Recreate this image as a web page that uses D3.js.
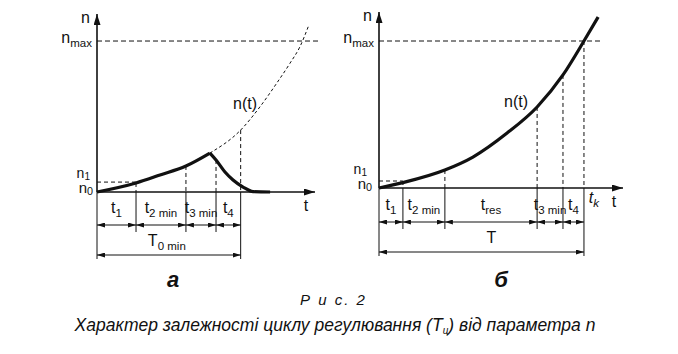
<!DOCTYPE html>
<html>
<head>
<meta charset="utf-8">
<script src="https://cdn.jsdelivr.net/npm/d3@7"></script>
<style>
  body { margin: 0; background: #fff; }
  text { font-family: "Liberation Sans", Arial, sans-serif; fill: #111; }
</style>
</head>
<body>
<script>
var width = 678,
    height = 354;

// panel a: rising part, decay after peak, dashed continuation
var aRiseT = [0, 1.79, 2.89, 4.08, 5.18],
    aRiseN = [0, 5.1, 9.6, 14.7, 22];
var aFallT = [5.18, 5.46, 5.87, 6.24, 6.70, 7.16, 7.94],
    aFallN = [22, 18.1, 11.3, 6.8, 2.8, 0.2, 0];
var aExtT = [5.18, 6.59, 7.48, 8.24, 8.85, 9.31, 9.69],
    aExtN = [22, 35.0, 48.2, 61.4, 72.7, 82.1, 93.4];
var aBounds = [0, 1.79, 4.08, 5.46, 6.59],
    aBoundN = [0, 5.1, 14.7, 18.1, 35.0];
var aLabels = [["t", "1"], ["t", "2 min"], ["t", "3 min"], ["t", "4"]],
    aTotal = ["T", "0 min"];
var aNmax = 85.3, aN1 = 5.6;

// panel б
var bT = [0, 0.98, 2.70, 3.85, 5.25, 6.48, 7.54, 8.40, 8.98],
    bN = [0, 3.1, 10.3, 17.7, 31.4, 46.3, 64.6, 84, 97.7];
var bBounds = [0, 0.98, 2.70, 6.48, 7.54, 8.40],
    bBoundN = [0, 4, 10.3, 46.3, 64.6, 84];
var bLabels = [["t", "1"], ["t", "2 min"], ["t", "res"], ["t", "3 min"], ["t", "4"]],
    bTotal = ["T", ""];
var bNmax = 84, bN1 = 4;

var svg = d3.select("body").append("svg")
    .attr("width", width)
    .attr("height", height);

var defs = svg.append("defs");
defs.append("marker")
    .attr("id", "ax")
    .attr("viewBox", "0 0 11 7")
    .attr("refX", 11).attr("refY", 3.5)
    .attr("markerWidth", 11).attr("markerHeight", 7)
    .attr("markerUnits", "userSpaceOnUse")
    .attr("orient", "auto")
  .append("path").attr("d", "M0,0L11,3.5L0,7z").attr("fill", "#111");
defs.append("marker")
    .attr("id", "dim")
    .attr("viewBox", "0 0 8 5")
    .attr("refX", 8).attr("refY", 2.5)
    .attr("markerWidth", 8).attr("markerHeight", 5)
    .attr("markerUnits", "userSpaceOnUse")
    .attr("orient", "auto-start-reverse")
  .append("path").attr("d", "M0,0L8,2.5L0,5z").attr("fill", "#111");

// text with subscript
function label(g, x, y, base, sub, size, anchor, italic, subDy) {
  var t = g.append("text")
      .attr("x", x).attr("y", y)
      .attr("text-anchor", anchor || "middle")
      .style("font-size", size + "px")
      .style("font-style", italic ? "italic" : "normal");
  t.append("tspan").text(base);
  if (sub) t.append("tspan").attr("dy", subDy || 4).style("font-size", (size * 0.72) + "px").text(sub);
  return t;
}

function panel(p) {
  var g = svg.append("g");
  var x = d3.scaleLinear().domain([0, 10]).range(p.xr);
  var y = d3.scaleLinear().domain([0, 100]).range(p.yr);
  var x0 = x(0), y0 = y(0);

  var line = d3.line()
      .x(function(d) { return x(d[0]); })
      .y(function(d) { return y(d[1]); })
      .curve(d3.curveMonotoneX);

  // dashed helpers
  g.append("line")
      .attr("x1", x0).attr("x2", p.nmaxEnd)
      .attr("y1", y(p.nmax)).attr("y2", y(p.nmax))
      .attr("stroke", "#111").attr("stroke-width", 1).attr("stroke-dasharray", "5,3");
  g.append("line")
      .attr("x1", x0).attr("x2", x(p.bounds[1]))
      .attr("y1", y(p.n1)).attr("y2", y(p.n1))
      .attr("stroke", "#111").attr("stroke-width", 1).attr("stroke-dasharray", "4,3");

  g.selectAll(".up")
      .data(p.bounds.slice(1))
    .enter().append("line")
      .attr("x1", function(d) { return x(d); })
      .attr("x2", function(d) { return x(d); })
      .attr("y1", function(d, i) { return y(p.boundN[i + 1]); })
      .attr("y2", y0)
      .attr("stroke", "#111").attr("stroke-width", 1).attr("stroke-dasharray", "4,3");

  // extension lines below axis
  var last = p.bounds.length - 1;
  g.selectAll(".down")
      .data(p.bounds)
    .enter().append("line")
      .attr("x1", function(d) { return x(d); })
      .attr("x2", function(d) { return x(d); })
      .attr("y1", y0)
      .attr("y2", function(d, i) { return (i == 0 || i == last) ? p.row2 + 4 : p.row1 + 7; })
      .attr("stroke", "#111").attr("stroke-width", 1);

  // axes
  g.append("line")
      .attr("x1", x0).attr("x2", x0)
      .attr("y1", y0).attr("y2", p.yTop)
      .attr("stroke", "#111").attr("stroke-width", 1.6)
      .attr("marker-end", "url(#ax)");
  g.append("line")
      .attr("x1", x0).attr("x2", p.xr[1])
      .attr("y1", y0).attr("y2", y0)
      .attr("stroke", "#111").attr("stroke-width", 1.6)
      .attr("marker-end", "url(#ax)");

  // curves
  p.curves.forEach(function(c) {
    g.append("path")
        .datum(d3.zip(c.t, c.n))
        .attr("d", line)
        .attr("fill", "none")
        .attr("stroke", "#111")
        .attr("stroke-width", c.dash ? 1 : 3.2)
        .attr("stroke-dasharray", c.dash ? "3,2.5" : null);
  });

  // dimension arrows
  for (var i = 0; i < last; i++) {
    g.append("line")
        .attr("x1", x(p.bounds[i])).attr("x2", x(p.bounds[i + 1]))
        .attr("y1", p.row1).attr("y2", p.row1)
        .attr("stroke", "#111").attr("stroke-width", 1)
        .attr("marker-start", "url(#dim)").attr("marker-end", "url(#dim)");
    label(g, (x(p.bounds[i]) + x(p.bounds[i + 1])) / 2, p.row1 - 12,
          p.labels[i][0], p.labels[i][1], 16);
  }
  g.append("line")
      .attr("x1", x0).attr("x2", x(p.bounds[last]))
      .attr("y1", p.row2).attr("y2", p.row2)
      .attr("stroke", "#111").attr("stroke-width", 1)
      .attr("marker-start", "url(#dim)").attr("marker-end", "url(#dim)");
  label(g, (x0 + x(p.bounds[last])) / 2 + p.totalShift, p.row2 - 9, p.total[0], p.total[1], 16);

  // axis labels
  label(g, x0 - 7, p.yTop + 9, "n", "", 16, "end");
  label(g, x0 - 5, y(p.nmax) + 2, "n", "max", 16, "end");
  label(g, x0 - p.n1Gap, y0 - 14, "n", "1", 14, "end", false, 2);
  label(g, x0 - p.n0Gap, y0 + 0.5, "n", "0", 15, "end", false, 2);
  label(g, p.xr[1] - 9, y0 + 19, "t", "", 16);
  label(g, p.ntx, p.nty, "n(t)", "", 16);
  g.append("text")
      .attr("x", p.letterX).attr("y", 287)
      .attr("text-anchor", "middle")
      .style("font-size", "22px").style("font-style", "italic").style("font-weight", "bold")
      .text(p.letter);
  return { g: g, x: x, y: y };
}

panel({
  xr: [97, 315], yr: [192, 15], yTop: 14, nmaxEnd: 318,
  nmax: aNmax, n1: aN1, bounds: aBounds, boundN: aBoundN,
  labels: aLabels, total: aTotal, totalShift: -2, n1Gap: 7, n0Gap: 4,
  row1: 225, row2: 255, ntx: 245, nty: 109, letter: "а", letterX: 173,
  curves: [
    { t: aExtT, n: aExtN, dash: true },
    { t: aRiseT, n: aRiseN },
    { t: aFallT, n: aFallN }
  ]
});

var pb = panel({
  xr: [379, 623], yr: [188, 13], yTop: 12, nmaxEnd: 600,
  nmax: bNmax, n1: bN1, bounds: bBounds, boundN: bBoundN,
  labels: bLabels, total: bTotal, totalShift: 10, n1Gap: 12, n0Gap: 7,
  row1: 222, row2: 252, ntx: 516, nty: 107, letter: "б", letterX: 501,
  curves: [
    { t: bT, n: bN }
  ]
});
label(pb.g, pb.x(bBounds[bBounds.length - 1]) + 10, 203, "t", "k", 16, "middle", true);

// caption
svg.append("text")
    .attr("x", 300).attr("y", 305)
    .style("font-size", "15px").style("font-style", "italic")
    .style("letter-spacing", "2px")
    .text("Р и с.  2");
var cap = svg.append("text")
    .attr("x", 335).attr("y", 331)
    .attr("text-anchor", "middle")
    .style("font-size", "17.5px").style("font-style", "italic");
cap.append("tspan").text("Характер залежності циклу регулювання (");
cap.append("tspan").text("T");
cap.append("tspan").attr("dy", 3).style("font-size", "10px").text("ц");
cap.append("tspan").attr("dy", -3).text(") від параметра ");
cap.append("tspan").text("n");
</script>
</body>
</html>
